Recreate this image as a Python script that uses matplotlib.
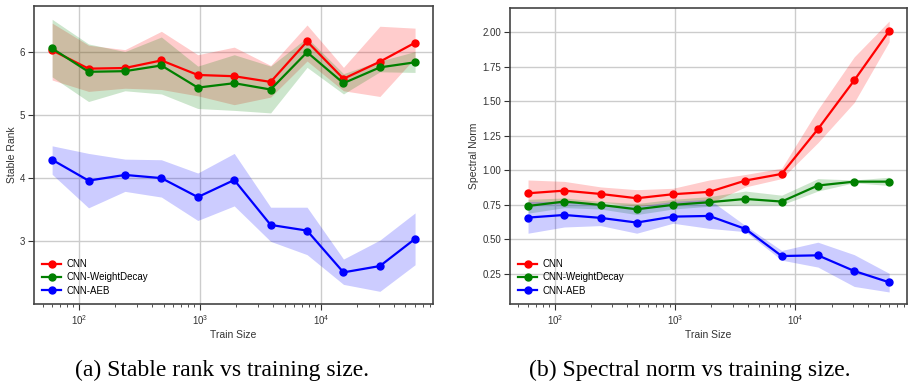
import matplotlib
matplotlib.use("Agg")
import matplotlib.pyplot as plt
import numpy as np

plt.rcParams['font.family'] = ['Liberation Sans', 'DejaVu Sans']

train_size = [60, 120, 240, 480, 960, 1920, 3840, 7680, 15360, 30720, 60000]
labels = ["CNN", "CNN-WeightDecay", "CNN-AEB"]
colors = ["red", "green", "blue"]

# stable rank: mean, lower, upper
rank_cnn = [6.02, 5.73, 5.74, 5.86, 5.63, 5.61, 5.52, 6.16, 5.57, 5.84, 6.14]
rank_cnn_lo = [5.55, 5.37, 5.42, 5.40, 5.30, 5.16, 5.28, 5.85, 5.38, 5.29, 5.90]
rank_cnn_hi = [6.45, 6.10, 6.03, 6.32, 5.95, 6.07, 5.78, 6.42, 5.75, 6.40, 6.37]
rank_wd = [6.05, 5.68, 5.69, 5.78, 5.43, 5.50, 5.40, 5.99, 5.50, 5.75, 5.83]
rank_wd_lo = [5.60, 5.21, 5.38, 5.33, 5.10, 5.07, 5.03, 5.75, 5.33, 5.68, 5.67]
rank_wd_hi = [6.51, 6.12, 6.00, 6.23, 5.77, 5.95, 5.77, 6.22, 5.65, 5.85, 6.00]
rank_aeb = [4.29, 3.96, 4.05, 4.00, 3.70, 3.97, 3.26, 3.17, 2.51, 2.61, 3.04]
rank_aeb_lo = [4.06, 3.53, 3.79, 3.70, 3.33, 3.56, 3.00, 2.79, 2.32, 2.21, 2.63]
rank_aeb_hi = [4.51, 4.39, 4.30, 4.29, 4.08, 4.39, 3.54, 3.54, 2.72, 3.02, 3.45]

# spectral norm: mean, lower, upper
norm_cnn = [0.834, 0.853, 0.829, 0.798, 0.827, 0.844, 0.926, 0.974, 1.298, 1.65, 2.007]
norm_cnn_lo = [0.75, 0.76, 0.77, 0.74, 0.76, 0.76, 0.88, 0.94, 1.20, 1.49, 1.93]
norm_cnn_hi = [0.93, 0.92, 0.88, 0.86, 0.87, 0.93, 0.97, 1.015, 1.44, 1.82, 2.08]
norm_wd = [0.742, 0.774, 0.75, 0.718, 0.75, 0.769, 0.793, 0.774, 0.89, 0.918, 0.918]
norm_wd_lo = [0.69, 0.73, 0.72, 0.68, 0.72, 0.74, 0.75, 0.75, 0.85, 0.91, 0.89]
norm_wd_hi = [0.79, 0.80, 0.775, 0.76, 0.79, 0.81, 0.85, 0.82, 0.94, 0.93, 0.95]
norm_aeb = [0.658, 0.677, 0.656, 0.622, 0.665, 0.67, 0.576, 0.38, 0.385, 0.272, 0.19]
norm_aeb_lo = [0.545, 0.59, 0.60, 0.545, 0.617, 0.58, 0.556, 0.35, 0.30, 0.16, 0.12]
norm_aeb_hi = [0.775, 0.775, 0.75, 0.74, 0.775, 0.79, 0.60, 0.42, 0.48, 0.39, 0.255]

fig = plt.figure(figsize=(9.09, 3.83), dpi=100)
ax1 = fig.add_axes([34 / 909, 1 - 304 / 383, 399 / 909, 298 / 383])
ax2 = fig.add_axes([510 / 909, 1 - 304 / 383, 397 / 909, 296 / 383])

panels = [
    (ax1, [(rank_cnn, rank_cnn_lo, rank_cnn_hi), (rank_wd, rank_wd_lo, rank_wd_hi),
           (rank_aeb, rank_aeb_lo, rank_aeb_hi)], "Stable Rank", (2.01, 6.72)),
    (ax2, [(norm_cnn, norm_cnn_lo, norm_cnn_hi), (norm_wd, norm_wd_lo, norm_wd_hi),
           (norm_aeb, norm_aeb_lo, norm_aeb_hi)], "Spectral Norm", (0.033, 2.174)),
]

for ax, series, ylabel, ylim in panels:
    for (mean, lo, hi), lab, col in zip(series, labels, colors):
        ax.fill_between(train_size, lo, hi, color=col, alpha=0.2, linewidth=0)
        ax.plot(train_size, mean, color=col, marker="o", markersize=5, linewidth=1.6, label=lab)
    ax.set_xscale("log")
    ax.set_xlim(42.5, 84400)
    ax.set_ylim(*ylim)
    ax.grid(True, which="major", color="#cccccc", linewidth=1)
    ax.set_axisbelow(True)
    for sp in ax.spines.values():
        sp.set_color("#444444")
        sp.set_linewidth(1.2)
    ax.tick_params(axis="both", which="both", direction="out", labelsize=7, colors="#333333")
    ax.tick_params(axis="both", which="major", length=4, pad=2.5)
    ax.tick_params(axis="x", which="minor", length=2)
    ax.set_xlabel("Train Size", fontsize=7.5, color="#333333", labelpad=2)
    ax.set_ylabel(ylabel, fontsize=7.5, color="#333333", labelpad=2)
    ax.legend(loc="lower left", frameon=False, fontsize=7, handlelength=1.9,
              handletextpad=0.6, labelspacing=0.35, borderaxespad=0.45)

ax1.set_yticks([3, 4, 5, 6])
ax2.set_yticks([0.25, 0.5, 0.75, 1.0, 1.25, 1.5, 1.75, 2.0])
ax2.yaxis.set_major_formatter(matplotlib.ticker.FormatStrFormatter("%.2f"))

fig.text(222 / 909, 1 - 370 / 383, "(a) Stable rank vs training size.", ha="center", va="center",
         fontsize=17, family="Liberation Serif")
fig.text(690 / 909, 1 - 370 / 383, "(b) Spectral norm vs training size.", ha="center", va="center",
         fontsize=17, family="Liberation Serif")

fig.savefig("out.png", dpi=100)
